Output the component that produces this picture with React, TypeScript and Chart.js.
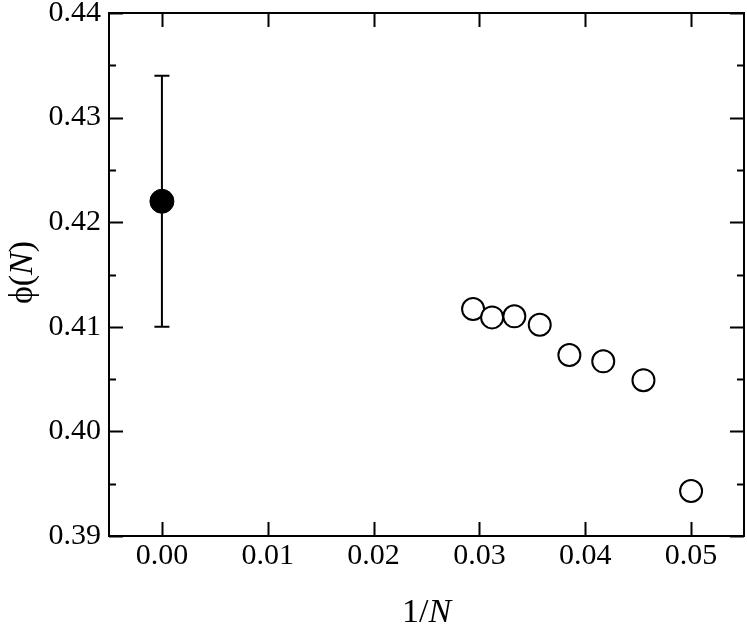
import React, { useEffect, useRef } from "react";
import { Chart, registerables } from "chart.js";

Chart.register(...registerables);

// Finite-size data: x = 1/N, y = phi(N)
const invN = [0.0294, 0.0312, 0.0333, 0.0357, 0.0385, 0.0417, 0.0455, 0.05];
const phiN = [0.4117, 0.4109, 0.411, 0.4102, 0.4073, 0.4067, 0.4049, 0.3943];

// Extrapolated value (N -> infinity) with error bar
const extrapX = [0.0];
const extrapY = [0.422];
const extrapErrLow = [0.41];
const extrapErrHigh = [0.434];

// Axes
const xTicks = [0.0, 0.01, 0.02, 0.03, 0.04, 0.05];
const yTicks = [0.39, 0.4, 0.41, 0.42, 0.43, 0.44];
const yMinorTicks = [0.395, 0.405, 0.415, 0.425, 0.435];
const xRange = [-0.005, 0.055];
const yRange = [0.39, 0.44];
const xTitle = [
  { t: "1/", italic: false },
  { t: "N", italic: true },
];
const yTitle = [
  { t: "ϕ(", italic: false },
  { t: "N", italic: true },
  { t: ")", italic: false },
];

const FONT = "'Liberation Serif', 'Times New Roman', serif";

function drawRich(ctx: CanvasRenderingContext2D, parts: { t: string; italic: boolean }[], size: number) {
  const fontFor = (it: boolean) => `${it ? "italic " : ""}${size}px ${FONT}`;
  let total = 0;
  const widths = parts.map((p) => {
    ctx.font = fontFor(p.italic);
    const w = ctx.measureText(p.t).width;
    total += w;
    return w;
  });
  let x = -total / 2;
  parts.forEach((p, i) => {
    ctx.font = fontFor(p.italic);
    ctx.fillText(p.t, x, 0);
    x += widths[i];
  });
}

const decorPlugin = {
  id: "decor",
  beforeDatasetsDraw(chart: any) {
    const ctx = chart.ctx;
    const xs = chart.scales.x;
    const ys = chart.scales.y;
    ctx.save();
    ctx.strokeStyle = "#000";
    ctx.lineWidth = 2;
    extrapX.forEach((xv, i) => {
      const px = xs.getPixelForValue(xv);
      const top = ys.getPixelForValue(extrapErrHigh[i]);
      const bot = ys.getPixelForValue(extrapErrLow[i]);
      ctx.beginPath();
      ctx.moveTo(px, top);
      ctx.lineTo(px, bot);
      ctx.moveTo(px - 7.5, top);
      ctx.lineTo(px + 7.5, top);
      ctx.moveTo(px - 7.5, bot);
      ctx.lineTo(px + 7.5, bot);
      ctx.stroke();
    });
    ctx.restore();
  },
  afterDraw(chart: any) {
    const ctx = chart.ctx;
    const { left, right, top, bottom } = chart.chartArea;
    const xs = chart.scales.x;
    const ys = chart.scales.y;
    ctx.save();
    ctx.strokeStyle = "#000";
    ctx.lineWidth = 2;
    ctx.strokeRect(left, top, right - left, bottom - top);
    const major = 14;
    const minor = 7;
    ctx.beginPath();
    xTicks.forEach((v) => {
      const px = Math.round(xs.getPixelForValue(v)) + 0.5;
      ctx.moveTo(px, bottom);
      ctx.lineTo(px, bottom - major);
      ctx.moveTo(px, top);
      ctx.lineTo(px, top + major);
    });
    yTicks.forEach((v) => {
      const py = Math.round(ys.getPixelForValue(v)) + 0.5;
      ctx.moveTo(left, py);
      ctx.lineTo(left + major, py);
      ctx.moveTo(right, py);
      ctx.lineTo(right - major, py);
    });
    yMinorTicks.forEach((v) => {
      const py = Math.round(ys.getPixelForValue(v)) + 0.5;
      ctx.moveTo(left, py);
      ctx.lineTo(left + minor, py);
      ctx.moveTo(right, py);
      ctx.lineTo(right - minor, py);
    });
    ctx.stroke();

    // axis titles
    ctx.fillStyle = "#000";
    ctx.textBaseline = "alphabetic";
    ctx.textAlign = "left";
    ctx.save();
    ctx.translate((left + right) / 2, 622);
    drawRich(ctx, xTitle, 34);
    ctx.restore();
    ctx.save();
    ctx.translate(32, (top + bottom) / 2 - 2);
    ctx.rotate(-Math.PI / 2);
    drawRich(ctx, yTitle, 34);
    ctx.restore();
    ctx.restore();
  },
};

export default function App() {
  const ref = useRef<HTMLCanvasElement | null>(null);
  useEffect(() => {
    if (!ref.current) return;
    const chart = new Chart(ref.current, {
      type: "scatter",
      data: {
        datasets: [
          {
            label: "finite N",
            data: invN.map((x, i) => ({ x, y: phiN[i] })),
            pointStyle: "circle",
            pointRadius: 11,
            pointHoverRadius: 11,
            pointBorderWidth: 2,
            pointBackgroundColor: "#fff",
            pointBorderColor: "#000",
            showLine: false,
          },
          {
            label: "extrapolated",
            data: extrapX.map((x, i) => ({ x, y: extrapY[i] })),
            pointStyle: "circle",
            pointRadius: 12,
            pointHoverRadius: 12,
            pointBorderWidth: 1,
            pointBackgroundColor: "#000",
            pointBorderColor: "#000",
            showLine: false,
          },
        ],
      },
      options: {
        animation: false,
        responsive: false,
        devicePixelRatio: 1,
        events: [],
        layout: { autoPadding: false, padding: { top: 13, right: 3, left: 0, bottom: 0 } },
        plugins: { legend: { display: false }, tooltip: { enabled: false } },
        scales: {
          x: {
            type: "linear",
            min: xRange[0],
            max: xRange[1],
            grid: { display: false, drawTicks: false },
            border: { display: false },
            afterBuildTicks: (scale: any) => {
              scale.ticks = xTicks.map((v) => ({ value: v }));
            },
            afterFit: (scale: any) => {
              scale.height = 90;
              scale.paddingLeft = 0;
              scale.paddingRight = 0;
            },
            ticks: {
              autoSkip: false,
              maxRotation: 0,
              padding: 2,
              color: "#000",
              font: { family: FONT, size: 30, lineHeight: 1.2 },
              callback: (v: any) => Number(v).toFixed(2),
            },
          },
          y: {
            type: "linear",
            min: yRange[0],
            max: yRange[1],
            grid: { display: false, drawTicks: false },
            border: { display: false },
            afterBuildTicks: (scale: any) => {
              scale.ticks = yTicks.map((v) => ({ value: v }));
            },
            afterFit: (scale: any) => {
              scale.width = 109;
              scale.paddingTop = 0;
              scale.paddingBottom = 0;
            },
            ticks: {
              autoSkip: false,
              padding: 8,
              color: "#000",
              font: { family: FONT, size: 30, lineHeight: 1.2 },
              callback: (v: any) => Number(v).toFixed(2),
            },
          },
        },
      },
      plugins: [decorPlugin],
    } as any);
    return () => chart.destroy();
  }, []);
  return (
    <div style={{ position: "absolute", left: 0, top: 0, width: 747, height: 626, background: "#fff" }}>
      <canvas ref={ref} width={747} height={626} style={{ display: "block" }} />
    </div>
  );
}
